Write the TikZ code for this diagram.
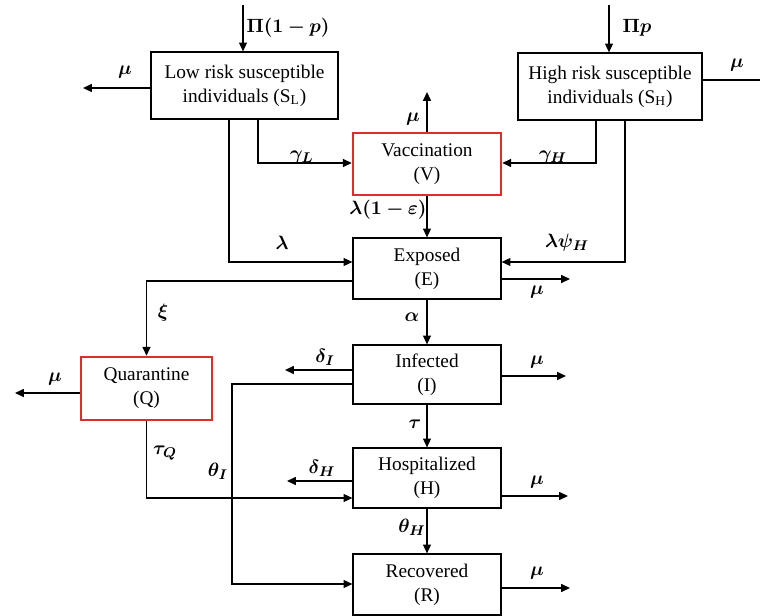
\documentclass[tikz,border=0pt]{standalone}
\usepackage{fontspec}
\setmainfont{Liberation Serif}
\usepackage{amsmath}
\usepackage{bm}
\usetikzlibrary{arrows.meta}
\definecolor{qred}{RGB}{222,45,45}
\def\px{0.2mm}

\begin{document}
\begin{tikzpicture}[x=\px, y=-\px, font=\fontsize{11}{13.5}\selectfont,
  box/.style={draw, line width=0.7pt, align=center, inner sep=0pt,
    minimum width=148*\px, minimum height=61*\px},
  redbox/.style={box, draw=qred, line width=1.4pt},
  flow/.style={-{Triangle[length=5pt,width=4.5pt]}, line width=0.7pt},
  rate/.style={inner sep=1pt}]
  \useasboundingbox (0,0) rectangle (760,616);
  % compartments
  \node[box, minimum width=187*\px, minimum height=67*\px] (sl) at (244.5,85.5)
    {Low risk susceptible\\individuals (S\textsubscript{L})};
  \node[box, minimum width=184*\px, minimum height=67*\px] (sh) at (610,86.5)
    {High risk susceptible\\individuals (S\textsubscript{H})};
  \node[redbox, minimum height=62*\px] (vac) at (427,164) {Vaccination\\(V)};
  \node[box] (exp) at (427,268.5) {Exposed\\(E)};
  \node[box, minimum height=59*\px] (inf) at (427,374.5) {Infected\\(I)};
  \node[box, minimum height=60*\px] (hosp) at (427,478) {Hospitalized\\(H)};
  \node[box] (rec) at (427,584.5) {Recovered\\(R)};
  \node[redbox, minimum width=131*\px, minimum height=63*\px] (quar) at (146.5,388.5)
    {Quarantine\\(Q)};
  % bends and free ends
  \coordinate (inL) at (243,5);
  \coordinate (inH) at (609,5);
  \coordinate (muSL) at (83,88);
  \coordinate (muSH) at (760,80);
  \coordinate (gL) at (258,163);
  \coordinate (gH) at (596,163);
  \coordinate (muV) at (427,92);
  \coordinate (lamL) at (229,262);
  \coordinate (lamH) at (625,262);
  \coordinate (xiQ) at (146.5,281);
  \coordinate (muE) at (570,279);
  \coordinate (muI) at (566,376);
  \coordinate (delI) at (285,370);
  \coordinate (thI) at (232,384);
  \coordinate (thR) at (232,584);
  \coordinate (muQ) at (15,393);
  \coordinate (tauQ) at (146.5,498);
  \coordinate (delH) at (287,481);
  \coordinate (muH) at (568,496);
  \coordinate (muR) at (570,588);
  % recruitment and susceptible flows
  \draw[flow] (inL) -- (inL |- sl.north);
  \draw[flow] (inH) -- (inH |- sh.north);
  \draw[flow] (sl.west |- muSL) -- (muSL);
  \draw[line width=0.7pt] (sh.east |- muSH) -- (muSH);
  \draw[flow] (sl.south -| gL) -- (gL) -- (vac.west |- gL);
  \draw[flow] (sh.south -| gH) -- (gH) -- (vac.east |- gH);
  \draw[flow] (vac.north) -- (muV);
  \draw[flow] (vac.south) -- (exp.north);
  \draw[flow] (sl.south -| lamL) -- (lamL) -- (exp.west |- lamL);
  \draw[flow] (sh.south -| lamH) -- (lamH) -- (exp.east |- lamH);
  % disease progression
  \draw[flow] (exp.west |- xiQ) -- (xiQ) -- (quar.north);
  \draw[flow] (exp.east |- muE) -- (muE);
  \draw[flow] (exp.south) -- (inf.north);
  \draw[flow] (inf.east |- muI) -- (muI);
  \draw[flow] (inf.west |- delI) -- (delI);
  \draw[flow] (inf.west |- thI) -- (thI) -- (thR) -- (rec.west |- thR);
  \draw[flow] (quar.west |- muQ) -- (muQ);
  \draw[flow] (quar.south) -- (tauQ) -- (hosp.west |- tauQ);
  \draw[flow] (inf.south) -- (hosp.north);
  \draw[flow] (hosp.west |- delH) -- (delH);
  \draw[flow] (hosp.east |- muH) -- (muH);
  \draw[flow] (hosp.south) -- (rec.north);
  \draw[flow] (rec.east |- muR) -- (muR);
  % rates
  \node[rate] (lPiL) at (288,28) {$\bm{\Pi(1-p)}$};
  \node[rate] (lPiH) at (637,28) {$\bm{\Pi p}$};
  \node[rate] (lmuSL) at (125,72) {$\bm{\mu}$};
  \node[rate] (lmuSH) at (737,65) {$\bm{\mu}$};
  \node[rate] (lgL) at (302,157) {$\bm{\gamma_L}$};
  \node[rate] (lgH) at (553,157) {$\bm{\gamma_H}$};
  \node[rate] (lmuV) at (413,119) {$\bm{\mu}$};
  \node[rate] (llamV) at (388,210) {$\bm{\lambda(1-\varepsilon)}$};
  \node[rate] (llamL) at (282,243) {$\bm{\lambda}$};
  \node[rate] (llamH) at (567,243) {$\bm{\lambda\psi_H}$};
  \node[rate] (lxi) at (163,313) {$\bm{\xi}$};
  \node[rate] (lmuE) at (537,292) {$\bm{\mu}$};
  \node[rate] (lalpha) at (412,317) {$\bm{\alpha}$};
  \node[rate] (lmuI) at (537,362) {$\bm{\mu}$};
  \node[rate] (ldelI) at (325,357) {$\bm{\delta_I}$};
  \node[rate] (lmuQ) at (55,379) {$\bm{\mu}$};
  \node[rate] (ltauQ) at (165,453) {$\bm{\tau_Q}$};
  \node[rate] (lthI) at (218,471) {$\bm{\theta_I}$};
  \node[rate] (ldelH) at (322,468) {$\bm{\delta_H}$};
  \node[rate] (ltau) at (415,424) {$\bm{\tau}$};
  \node[rate] (lmuH) at (537,482) {$\bm{\mu}$};
  \node[rate] (lthH) at (412,527) {$\bm{\theta_H}$};
  \node[rate] (lmuR) at (537,573) {$\bm{\mu}$};
\end{tikzpicture}
\end{document}
